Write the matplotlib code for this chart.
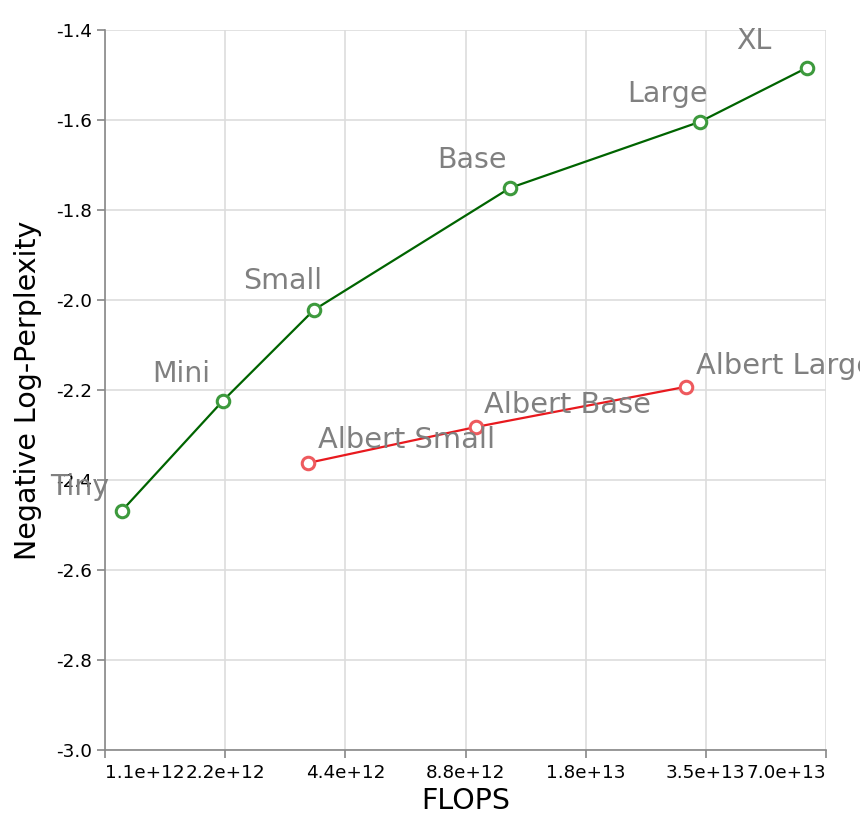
import matplotlib
matplotlib.use("Agg")
import matplotlib.pyplot as plt
import numpy as np

# model sizes (FLOPS, negative log-perplexity)
names = ["Tiny", "Mini", "Small", "Base", "Large", "XL"]
flops = [1.21e12, 2.17e12, 3.67e12, 1.137e13, 3.40e13, 6.30e13]
nlp = [-2.469, -2.224, -2.022, -1.751, -1.604, -1.484]

albert_names = ["Albert Small", "Albert Base", "Albert Large"]
albert_flops = [3.55e12, 9.36e12, 3.13e13]
albert_nlp = [-2.362, -2.282, -2.193]

xticks = [2.0 ** k for k in range(40, 47)]
xticklabels = ["1.1e+12", "2.2e+12", "4.4e+12", "8.8e+12", "1.8e+13", "3.5e+13", "7.0e+13"]
yticks = [-3.0, -2.8, -2.6, -2.4, -2.2, -2.0, -1.8, -1.6, -1.4]

# label offsets in pixels (text center relative to point)
offs = [(-42, 24), (-42, 27), (-31, 29), (-38, 28), (-32, 28), (-53, 27)]
albert_offs = [(10, 23), (8, 22), (10, 21)]

fig = plt.figure(figsize=(8.6, 8.17), dpi=100)
ax = fig.add_axes([0.1221, 0.082, 0.8384, 0.8813])

ax.plot(flops, nlp, color="#006400", lw=1.6, zorder=3)
ax.plot(flops, nlp, ls="none", marker="o", ms=9, mfc="white", mec="#3d9a3d",
        mew=2.2, zorder=4)
ax.plot(albert_flops, albert_nlp, color="#e8191e", lw=1.6, zorder=3)
ax.plot(albert_flops, albert_nlp, ls="none", marker="o", ms=9, mfc="white",
        mec="#ee5a5e", mew=2.2, zorder=4)

for n, x, y, o in zip(names, flops, nlp, offs):
    ax.annotate(n, (x, y), xytext=o, textcoords="offset pixels", ha="center",
                va="center", fontsize=20.5, color="#808080", zorder=5,
                annotation_clip=False)
for n, x, y, o in zip(albert_names, albert_flops, albert_nlp, albert_offs):
    ax.annotate(n, (x, y), xytext=o, textcoords="offset pixels", ha="left",
                va="center", fontsize=20.8, color="#808080", zorder=5,
                annotation_clip=False)

ax.set_xscale("log", base=2)
ax.set_xlim(2.0 ** 40, 2.0 ** 46)
ax.set_ylim(-3.0, -1.4)
ax.set_xticks(xticks)
ax.set_xticklabels(xticklabels)
ax.minorticks_off()
ax.set_yticks(yticks)
ax.set_yticklabels(["%.1f" % v for v in yticks])
lbls = ax.get_xticklabels()
lbls[0].set_ha("left")
lbls[-1].set_ha("right")

ax.grid(True, color="#dddddd", lw=1.2, zorder=0)
ax.set_axisbelow(True)
for s in ["top", "right"]:
    ax.spines[s].set_visible(False)
for s in ["left", "bottom"]:
    ax.spines[s].set_color("#888888")
    ax.spines[s].set_linewidth(1.2)
ax.tick_params(axis="both", colors="#888888", length=6, width=1.2,
               labelsize=13.2, labelcolor="#000000")
ax.tick_params(axis="x", pad=4)

ax.set_xlabel("FLOPS", fontsize=20.5, labelpad=4)
ax.set_ylabel("Negative Log-Perplexity", fontsize=20.5, labelpad=10)

fig.savefig("out.png", dpi=100)
